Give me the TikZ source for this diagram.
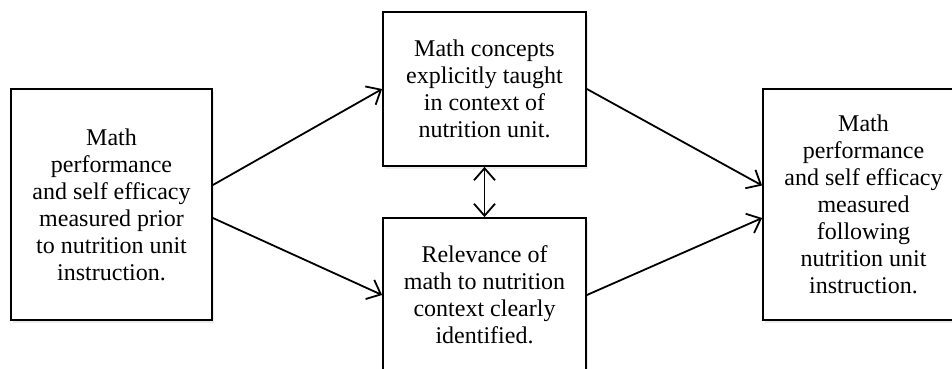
\documentclass[tikz,border=0pt]{standalone}
\usepackage{fontspec}
\setmainfont{Liberation Serif}
\usetikzlibrary{arrows.meta,shadows}

\begin{document}
\begin{tikzpicture}[x=1pt,y=-1pt,
    box/.style={draw,line width=1.8pt,fill=white,align=center,
        font=\fontsize{24}{27}\selectfont,
        drop shadow={shadow xshift=2pt,shadow yshift=-3pt,opacity=0.15}},
    link/.style={line width=1.8pt},
    >={Straight Barb[length=12pt,width=21pt]}]
    \useasboundingbox (0,0) rectangle (952,369);
    \clip (0,0) rectangle (952,369);
    \node[box,minimum width=201pt,minimum height=231pt] (before) at (111.5,204.5) {Math\\performance\\and self efficacy\\measured prior\\to nutrition unit\\instruction.};
    \node[box,minimum width=203pt,minimum height=154pt] (taught) at (484.5,89) {Math concepts\\explicitly taught\\in context of\\nutrition unit.};
    \node[box,minimum width=203pt,minimum height=154pt] (relev) at (484.5,295) {Relevance of\\math to nutrition\\context clearly\\identified.};
    \node[box,minimum width=201pt,minimum height=231pt] (after) at (863.5,204.5) {Math\\performance\\and self efficacy\\measured\\following\\nutrition unit\\instruction.};
    \draw[->,link] ([yshift=19.5pt]before.east) -- (taught.west);
    \draw[->,link] ([yshift=-13.5pt]before.east) -- (relev.west);
    \draw[->,link] (taught.east) -- ([yshift=19pt]after.west);
    \draw[->,link] (relev.east) -- ([yshift=-13.5pt]after.west);
    \draw[<->,link] (taught) -- (relev);
\end{tikzpicture}
\end{document}
